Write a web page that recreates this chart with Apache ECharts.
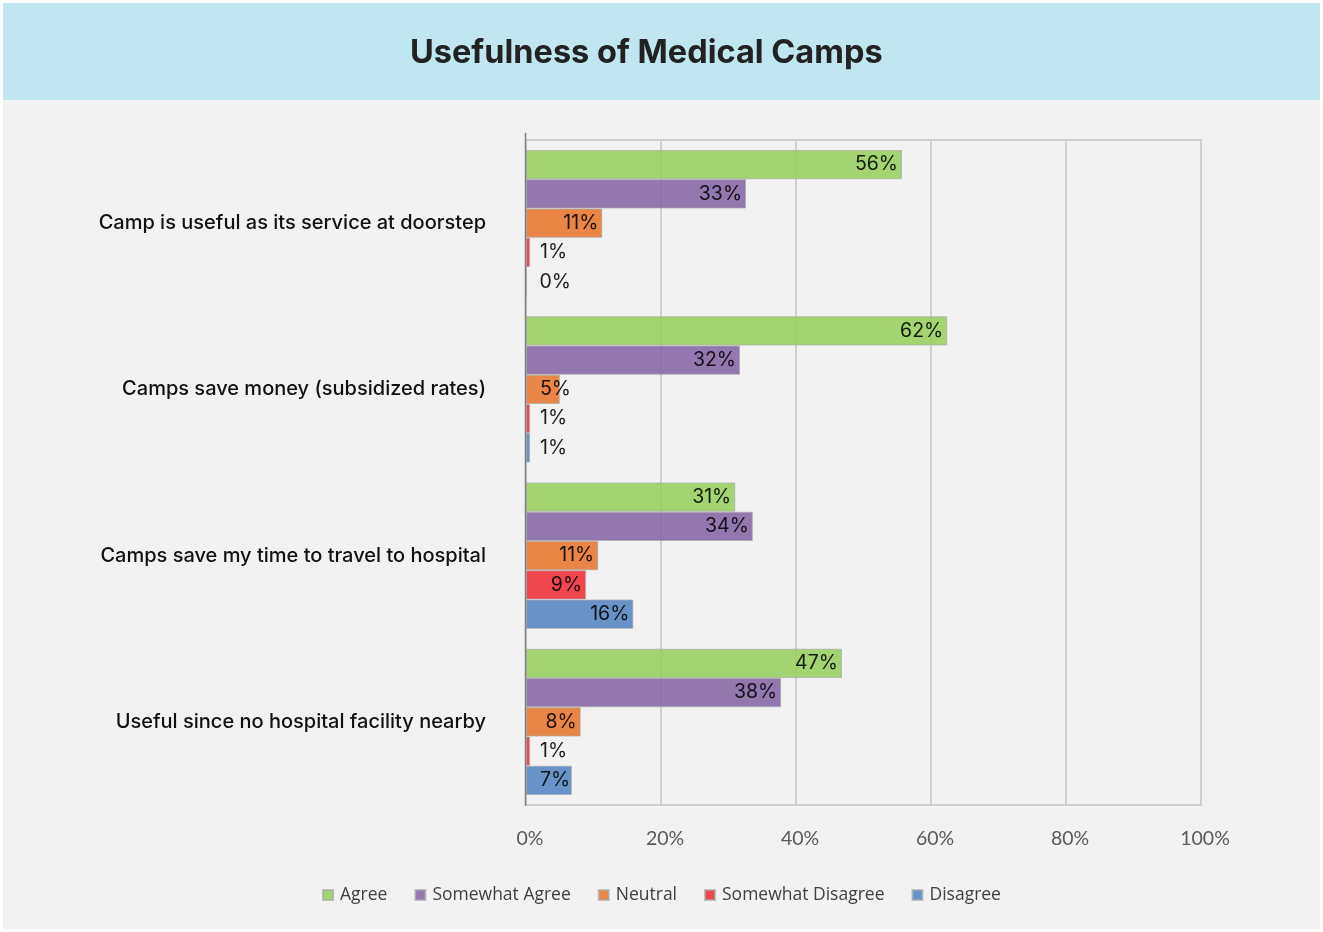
<!DOCTYPE html>
<html><head><meta charset="utf-8">
<script src="https://cdn.jsdelivr.net/npm/echarts@6/dist/echarts.min.js"></script>
<style>
html,body{margin:0;padding:0;background:#ffffff;}
#c{position:absolute;left:3px;top:3px;width:1317px;height:926px;}
</style></head>
<body><div id="c"></div>
<script>
const categories = ["Camp is useful as its service at doorstep","Camps save money (subsidized rates)","Camps save my time to travel to hospital","Useful since no hospital facility nearby"];
const seriesNames = ["Agree","Somewhat Agree","Neutral","Somewhat Disagree","Disagree"];
const agree = [55.7, 62.4, 31.0, 46.8];
const somewhatAgree = [32.6, 31.7, 33.6, 37.8];
const neutral = [11.3, 5.0, 10.7, 8.1];
const somewhatDisagree = [0.6, 0.6, 8.9, 0.6];
const disagree = [0, 0.6, 15.9, 6.8];
const xTicks = [0, 20, 40, 60, 80, 100];
const colors = ["#98ce5e", "#8567a6", "#e7762e", "#ef2f37", "#5485c3"];

const allValues = [agree, somewhatAgree, neutral, somewhatDisagree, disagree];
const chart = echarts.init(document.getElementById('c'));
const series = allValues.map((vals, i) => ({
  name: seriesNames[i],
  type: 'bar',
  barGap: '0%',
  barCategoryGap: '12%',
  itemStyle: { color: colors[i], opacity: 0.88, borderColor: 'rgba(170,170,170,0.8)', borderWidth: 1 },
  data: vals.map(v => ({
    value: v,
    label: v < 7.5 ? { position: [14, '50%'], align: 'left', verticalAlign: 'middle' }
                   : { position: 'insideRight', distance: 4 }
  })),
  label: {
    show: true,
    color: '#000',
    fontFamily: 'Inter',
    fontSize: 19.5,
    formatter: p => Math.round(p.value) + '%'
  }
}));

chart.setOption({
  backgroundColor: '#f2f2f2',
  animation: false,
  color: colors,
  title: {
    text: 'Usefulness of Medical Camps',
    left: 402, top: 29,
    textStyle: { fontFamily: 'Inter', fontWeight: 'bold', fontSize: 32.5, color: '#222222' }
  },
  graphic: [
    { type: 'rect', z: -1, shape: { x: 0, y: 0, width: 1317, height: 97 }, style: { fill: '#c0e6ef' } },
    { type: 'line', z: 10, shape: { x1: 522.5, y1: 130, x2: 522.5, y2: 803 }, style: { stroke: '#7f7f7f', lineWidth: 1.5 } }
  ],
  legend: {
    bottom: 20, left: 'center',
    itemWidth: 10, itemHeight: 10, itemGap: 27,
    icon: 'rect',
    textStyle: { fontFamily: 'Open Sans', fontSize: 17.5, color: '#404040', padding: [0,0,0,2] },
    data: seriesNames
  },
  grid: { left: 523, right: 119, top: 137, bottom: 124, show: true, borderColor: '#d0d0d0', borderWidth: 2, backgroundColor: 'transparent' },
  xAxis: {
    type: 'value', min: xTicks[0], max: xTicks[xTicks.length-1], interval: 20,
    axisLine: { show: false }, axisTick: { show: false },
    splitLine: { show: true, lineStyle: { color: '#cfcfcf', width: 2 } },
    axisLabel: { margin: 24, fontFamily: 'Lato', fontSize: 19.5, color: '#595959', padding: [0,0,0,8], formatter: v => v + '%' }
  },
  yAxis: {
    type: 'category', inverse: true, data: categories,
    axisLine: { show: false }, axisTick: { show: false },
    axisLabel: { margin: 40, fontFamily: 'Inter', fontSize: 20, fontWeight: 500, color: '#111111' }
  },
  series: series
});
</script></body></html>
